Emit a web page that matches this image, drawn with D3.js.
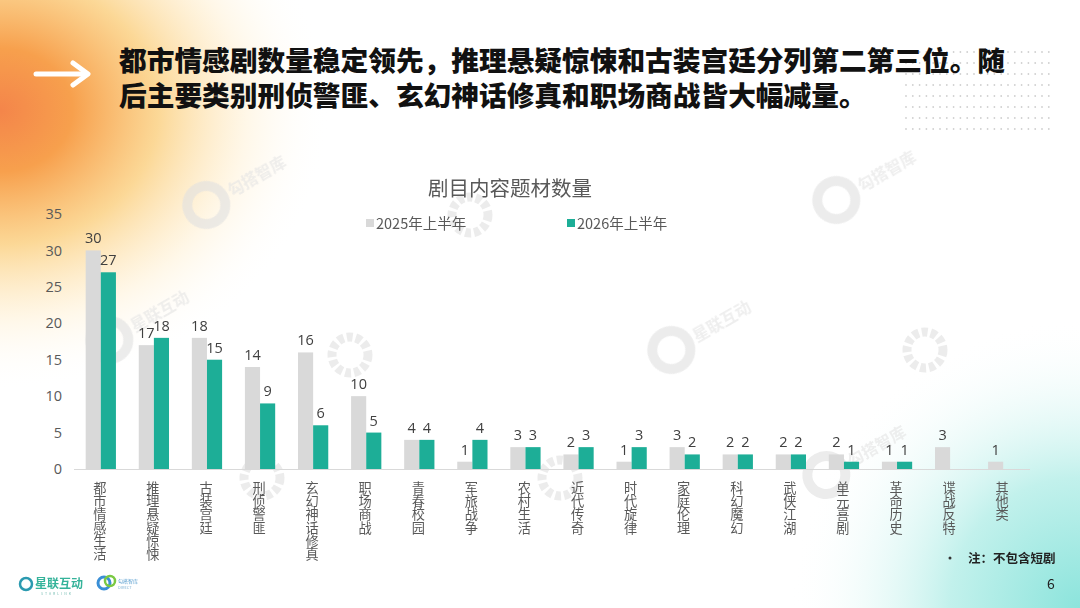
<!DOCTYPE html>
<html>
<head>
<meta charset="utf-8">
<script src="https://cdn.jsdelivr.net/npm/d3@7"></script>
<style>
  html, body { margin: 0; padding: 0; background: #fff; }
  svg { display: block; font-family: "Noto Sans CJK SC", "Noto Sans", sans-serif; }
</style>
</head>
<body>
<div id="chart"></div>
<script>
// chart data
var categories = ["都市情感生活", "推理悬疑惊悚", "古装宫廷", "刑侦警匪", "玄幻神话修真", "职场商战",
  "青春校园", "军旅战争", "农村生活", "近代传奇", "时代旋律", "家庭伦理", "科幻魔幻",
  "武侠江湖", "单元喜剧", "革命历史", "谍战反特", "其他类"];
var series = ["2025年上半年", "2026年上半年"];
var values2025 = [30, 17, 18, 14, 16, 10, 4, 1, 3, 2, 1, 3, 2, 2, 2, 1, 3, 1];
var values2026 = [27, 18, 15, 9, 6, 5, 4, 4, 3, 3, 3, 2, 2, 2, 1, 1, null, null];
var yTicks = [0, 5, 10, 15, 20, 25, 30, 35];
var headline = ["都市情感剧数量稳定领先，推理悬疑惊悚和古装宫廷分列第二第三位。随",
  "后主要类别刑侦警匪、玄幻神话修真和职场商战皆大幅减量。"];

var W = 1080, H = 608;
var colors = { "2025年上半年": "#d9d9d9", "2026年上半年": "#1dae97" };

var svg = d3.select("#chart").append("svg")
  .attr("width", W)
  .attr("height", H);

var defs = svg.append("defs");

// background glows
var g1 = defs.append("radialGradient").attr("id", "warm")
  .attr("gradientUnits", "userSpaceOnUse")
  .attr("cx", 0).attr("cy", 110).attr("r", 330)
  .attr("gradientTransform", "translate(0,110) scale(1,0.85) translate(0,-110)");
g1.append("stop").attr("offset", "0%").attr("stop-color", "#f4854a");
g1.append("stop").attr("offset", "22%").attr("stop-color", "#f7a04d");
g1.append("stop").attr("offset", "48%").attr("stop-color", "#fbd184").attr("stop-opacity", 0.85);
g1.append("stop").attr("offset", "75%").attr("stop-color", "#fff0d2").attr("stop-opacity", 0.5);
g1.append("stop").attr("offset", "100%").attr("stop-color", "#ffffff").attr("stop-opacity", 0);

var g2 = defs.append("radialGradient").attr("id", "cool")
  .attr("gradientUnits", "userSpaceOnUse")
  .attr("cx", 1080).attr("cy", 608).attr("r", 290);
g2.append("stop").attr("offset", "0%").attr("stop-color", "#8ce4dc");
g2.append("stop").attr("offset", "45%").attr("stop-color", "#c2f1ec");
g2.append("stop").attr("offset", "100%").attr("stop-color", "#ffffff").attr("stop-opacity", 0);

svg.append("rect").attr("width", W).attr("height", H).attr("fill", "#fff");
svg.append("rect").attr("width", W).attr("height", H).attr("fill", "url(#warm)");
svg.append("rect").attr("width", W).attr("height", H).attr("fill", "url(#cool)");

// dot pattern, top right
var dots = svg.append("g").attr("fill", "#d0d0d0");
d3.range(8).forEach(function (r) {
  d3.range(22).forEach(function (c) {
    dots.append("circle").attr("cx", 906 + c * 6.8).attr("cy", 52 + r * 11).attr("r", 0.9);
  });
});

// arrow
var arrow = svg.append("g").attr("stroke", "#fff").attr("stroke-width", 5)
  .attr("stroke-linecap", "round").attr("stroke-linejoin", "round").attr("fill", "none");
arrow.append("line").attr("x1", 36).attr("y1", 74).attr("x2", 86).attr("y2", 74);
arrow.append("polyline").attr("points", "73,63 88,74 73,85");

// headline
svg.append("g").selectAll("text")
  .data(headline)
  .join("text")
  .attr("x", 119)
  .attr("y", function (d, i) { return 71 + i * 34.5; })
  .attr("font-size", 27.7)
  .attr("font-weight", 900)
  .attr("fill", "#111")
  .text(function (d) { return d; });

// watermarks (faint)
var marks = [
  { x: 215, y: 200, t: "勾搭智库" }, { x: 845, y: 195, t: "勾搭智库" },
  { x: 118, y: 335, t: "星联互动" }, { x: 680, y: 345, t: "星联互动" },
  { x: 835, y: 470, t: "勾搭智库" }
];
var wm = svg.append("g").attr("opacity", 0.6);
marks.forEach(function (m) {
  var g = wm.append("g").attr("transform", "translate(" + m.x + "," + m.y + ") rotate(-30)");
  g.append("circle").attr("cx", -10).attr("cy", 0).attr("r", 19)
    .attr("fill", "none").attr("stroke", "#e0e0e0").attr("stroke-width", 10);
  g.append("text").attr("x", 16).attr("y", 6).attr("font-size", 16).attr("font-weight", 700)
    .attr("fill", "#e3e3e3").text(m.t);
});
[[350, 355], [925, 350], [470, 215], [262, 478], [560, 478]].forEach(function (p) {
  wm.append("circle").attr("cx", p[0]).attr("cy", p[1]).attr("r", 18)
    .attr("fill", "none").attr("stroke", "#e0e0e0").attr("stroke-width", 9)
    .attr("stroke-dasharray", "6 3");
});

// scales
var x = d3.scaleBand().domain(categories).range([74, 1030]).paddingInner(0.43).paddingOuter(0.22);
var xs = d3.scaleBand().domain(series).range([0, x.bandwidth()]);
var y = d3.scaleLinear().domain([0, 35]).range([469, 214]);

// title
svg.append("text")
  .attr("x", 510).attr("y", 196)
  .attr("text-anchor", "middle")
  .attr("font-size", 20.5)
  .attr("fill", "#595959")
  .text("剧目内容题材数量");

// legend
var legendX = [366, 567];
var leg = svg.append("g").selectAll("g").data(series).join("g")
  .attr("transform", function (d, i) { return "translate(" + legendX[i] + ",223)"; });
leg.append("rect").attr("x", 0).attr("y", -4).attr("width", 8).attr("height", 8)
  .attr("fill", function (d) { return colors[d]; });
leg.append("text").attr("x", 10).attr("y", 5.5).attr("font-size", 14.5).attr("fill", "#595959")
  .text(function (d) { return d; });

// y axis
var yAxis = svg.append("g").attr("transform", "translate(64,0)")
  .call(d3.axisLeft(y).tickValues(yTicks).tickSize(0).tickPadding(2));
yAxis.select(".domain").remove();
yAxis.selectAll("text").attr("font-size", 14.5).attr("fill", "#595959")
  .attr("font-family", "'Open Sans', 'Noto Sans', sans-serif");

// bars
var rows = categories.map(function (c, i) {
  return { cat: c, vals: [
    { s: series[0], v: values2025[i] },
    { s: series[1], v: values2026[i] }
  ] };
});

var groups = svg.append("g").selectAll("g").data(rows).join("g")
  .attr("transform", function (d) { return "translate(" + x(d.cat) + ",0)"; });

var items = groups.selectAll("g").data(function (d) {
  return d.vals.filter(function (v) { return v.v != null; });
}).join("g");

items.append("rect")
  .attr("x", function (d) { return xs(d.s); })
  .attr("y", function (d) { return y(d.v); })
  .attr("width", xs.bandwidth())
  .attr("height", function (d) { return y(0) - y(d.v); })
  .attr("fill", function (d) { return colors[d.s]; });

items.append("text")
  .attr("x", function (d) { return xs(d.s) + xs.bandwidth() / 2; })
  .attr("y", function (d) { return y(d.v) - 7; })
  .attr("text-anchor", "middle")
  .attr("font-size", 14.5)
  .attr("font-family", "'Open Sans', 'Noto Sans', sans-serif")
  .attr("fill", "#404040")
  .text(function (d) { return d.v; });

// x axis line
svg.append("line")
  .attr("x1", 74).attr("x2", 1030)
  .attr("y1", y(0) + 0.5).attr("y2", y(0) + 0.5)
  .attr("stroke", "#d9d9d9").attr("stroke-width", 1);

// vertical category labels, one character per line
var catLabels = svg.append("g").selectAll("text").data(categories).join("text")
  .attr("text-anchor", "middle")
  .attr("font-size", 13.2)
  .attr("fill", "#595959");
catLabels.each(function (d) {
  var t = d3.select(this);
  var cx = x(d) + x.bandwidth() / 2 - 1;
  d.split("").forEach(function (ch, i) {
    t.append("tspan").attr("x", cx).attr("y", 493 + i * 13.2).text(ch);
  });
});

// note and page number
svg.append("circle").attr("cx", 950).attr("cy", 558).attr("r", 1.5).attr("fill", "#333");
svg.append("text").attr("x", 968).attr("y", 563).attr("font-size", 12.5).attr("font-weight", 700)
  .attr("fill", "#222").text("注：不包含短剧");
svg.append("text").attr("x", 1051).attr("y", 589).attr("text-anchor", "middle")
  .attr("font-size", 14).attr("fill", "#222").text("6");

// footer logos
var logo = svg.append("g").attr("transform", "translate(26,584)");
logo.append("circle").attr("cx", 0).attr("cy", 0).attr("r", 6)
  .attr("fill", "none").attr("stroke", "#2b9ab0").attr("stroke-width", 2.5);
logo.append("text").attr("x", 9).attr("y", 4).attr("font-size", 12).attr("font-weight", 700)
  .attr("fill", "#35b39a").text("星联互动");
logo.append("text").attr("x", 15).attr("y", 11).attr("font-size", 3.5).attr("fill", "#7bbfb5")
  .attr("letter-spacing", 2).text("STARLINK");
var logo2 = svg.append("g").attr("transform", "translate(104,583)");
logo2.append("circle").attr("cx", 0).attr("cy", 0).attr("r", 6)
  .attr("fill", "none").attr("stroke", "#3a8fd6").attr("stroke-width", 3);
logo2.append("circle").attr("cx", 6).attr("cy", -2).attr("r", 5)
  .attr("fill", "none").attr("stroke", "#7ac943").attr("stroke-width", 2.5);
logo2.append("text").attr("x", 14).attr("y", 0).attr("font-size", 5).attr("fill", "#5a9fd0").text("勾搭智库");
logo2.append("text").attr("x", 14).attr("y", 6).attr("font-size", 4).attr("fill", "#8ab8d8").text("DIRECT");
</script>
</body>
</html>
